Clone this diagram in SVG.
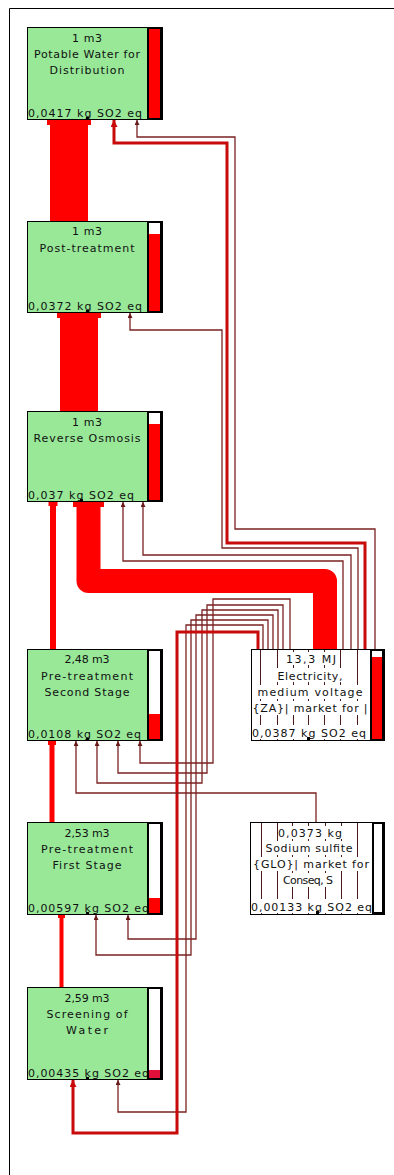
<svg xmlns="http://www.w3.org/2000/svg" width="394" height="1175" viewBox="0 0 394 1175">
<style>
.t{font-family:"DejaVu Sans","Liberation Sans",sans-serif;font-size:11px;fill:#111;}
.c{text-anchor:middle;}
.box{stroke:#000;stroke-width:1;}
.g{fill:#98e898;}
.w{fill:#fff;}
.thin{fill:none;stroke:#7a2222;stroke-width:1.3;marker-start:url(#at);}
.mid{fill:none;stroke:#c80a0a;stroke-width:3;marker-start:url(#am);}
.flow{fill:none;stroke:#ff0000;}
.cap{fill:#ff0000;}
.deco{stroke:#4a1a1a;stroke-width:1;}
.bg{fill:#fff;}
</style>
<defs>
<marker id="at" viewBox="0 0 10 10" refX="10" refY="5" markerWidth="5" markerHeight="5" markerUnits="userSpaceOnUse" orient="auto-start-reverse"><path d="M0,0 L10,5 L0,10 z" fill="#6a1a1a"/></marker>
<marker id="am" viewBox="0 0 10 10" refX="10" refY="5" markerWidth="7" markerHeight="7" markerUnits="userSpaceOnUse" orient="auto-start-reverse"><path d="M0,0 L10,5 L0,10 z" fill="#c80a0a"/></marker>
</defs>
<rect width="394" height="1175" fill="#fff"/>
<path d="M9.5,1175 V8.5 H394" fill="none" stroke="#000" stroke-width="1"/>

<g id="connectors">
  <path class="flow" d="M69,221 V122" stroke-width="38"/>
  <rect class="cap" x="47" y="119" width="44" height="6"/>
  <path class="flow" d="M79,411 V315" stroke-width="38"/>
  <rect class="cap" x="57" y="312" width="44" height="6"/>
  <path class="flow" d="M88.5,504 V581 H325 V649" stroke-width="24" stroke-linejoin="round"/>
  <rect class="cap" x="73" y="501" width="31" height="6"/>
  <path class="flow" d="M53,649 V504" stroke-width="6"/>
  <rect class="cap" x="48.5" y="501" width="9" height="5"/>
  <path class="flow" d="M52,822 V743" stroke-width="5"/>
  <rect class="cap" x="48" y="740" width="8" height="5"/>
  <path class="flow" d="M61.5,987 V917" stroke="#e00000" stroke-width="4"/>
  <rect class="cap" x="58" y="914" width="7" height="4"/>
  <path class="thin" d="M137,120 V137 H235 V529 H375 V649"/>
  <path class="mid" d="M114,120 V143 H227 V543 H365 V649"/>
  <path class="thin" d="M130,313 V330 H222 V548 H358 V649"/>
  <path class="thin" d="M143,502 V555 H351 V649"/>
  <path class="thin" d="M123,502 V561 H343 V649"/>
  <path class="thin" d="M140,741 V763 H213 V599 H290 V649"/>
  <path class="thin" d="M118,741 V773 H207 V605 H283 V649"/>
  <path class="thin" d="M97,741 V783 H202 V610 H278 V649"/>
  <path class="thin" d="M128,915 V939 H196 V615 H273 V649"/>
  <path class="thin" d="M96,915 V955 H191 V620 H268 V649"/>
  <path class="thin" d="M118,1080 V1112 H186 V625 H263 V649"/>
  <path class="mid" d="M73,1080 V1133 H177 V632 H258 V649" stroke-width="3.5"/>
  <path class="thin" d="M76,741 V793 H316 V822"/>
</g>

<g id="potable-water">
  <rect class="box g" x="27.5" y="27.5" width="135" height="92"/>
  <text class="t c" x="87" y="42" textLength="30">1 m3</text>
  <text class="t c" x="87" y="58" textLength="106">Potable Water for</text>
  <text class="t c" x="87" y="74" textLength="75">Distribution</text>
  <text class="t" x="28" y="117" textLength="114">0,0417 kg SO2 eq</text>
  <rect x="147" y="27" width="16" height="93" fill="#000"/>
  <rect x="149" y="29" width="11" height="89" fill="#ff0000"/>
  <rect x="86" y="117" width="3" height="3" fill="#000"/>
</g>

<g id="post-treatment">
  <rect class="box g" x="27.5" y="221.5" width="135" height="91"/>
  <text class="t c" x="87" y="235" textLength="30">1 m3</text>
  <text class="t c" x="87" y="252" textLength="95">Post-treatment</text>
  <text class="t" x="28" y="310" textLength="114">0,0372 kg SO2 eq</text>
  <rect x="147" y="221" width="16" height="92" fill="#000"/>
  <rect x="149" y="223" width="11" height="88" fill="#fff"/>
  <rect x="149" y="234" width="11" height="77" fill="#ff0000"/>
  <rect x="86" y="310" width="3" height="3" fill="#000"/>
</g>

<g id="reverse-osmosis">
  <rect class="box g" x="27.5" y="411.5" width="135" height="90"/>
  <text class="t c" x="87" y="426" textLength="30">1 m3</text>
  <text class="t c" x="87" y="442" textLength="107">Reverse Osmosis</text>
  <text class="t" x="28" y="499" textLength="106">0,037 kg SO2 eq</text>
  <rect x="147" y="411" width="16" height="91" fill="#000"/>
  <rect x="149" y="413" width="11" height="87" fill="#fff"/>
  <rect x="149" y="424" width="11" height="76" fill="#ff0000"/>
  <rect x="80" y="499" width="3" height="3" fill="#000"/>
</g>

<g id="pretreatment-second">
  <rect class="box g" x="27.5" y="649.5" width="135" height="91"/>
  <text class="t c" x="87" y="663" textLength="45">2,48 m3</text>
  <text class="t c" x="87" y="680" textLength="92">Pre-treatment</text>
  <text class="t c" x="87" y="696" textLength="85">Second Stage</text>
  <text class="t" x="28" y="738" textLength="113">0,0108 kg SO2 eq</text>
  <rect x="147" y="649" width="16" height="92" fill="#000"/>
  <rect x="149" y="651" width="11" height="88" fill="#fff"/>
  <rect x="149" y="714" width="11" height="25" fill="#ff0000"/>
  <rect x="86" y="738" width="3" height="3" fill="#000"/>
</g>

<g id="pretreatment-first">
  <rect class="box g" x="27.5" y="822.5" width="135" height="92"/>
  <text class="t c" x="87" y="837" textLength="45">2,53 m3</text>
  <text class="t c" x="87" y="853" textLength="92">Pre-treatment</text>
  <text class="t c" x="87" y="869" textLength="69">First Stage</text>
  <text class="t" x="28" y="912" textLength="121">0,00597 kg SO2 eq</text>
  <rect x="147" y="822" width="16" height="93" fill="#000"/>
  <rect x="149" y="824" width="11" height="89" fill="#fff"/>
  <rect x="149" y="898" width="11" height="15" fill="#ff0000"/>
  <rect x="86" y="912" width="3" height="3" fill="#000"/>
</g>

<g id="screening">
  <rect class="box g" x="27.5" y="987.5" width="135" height="92"/>
  <text class="t c" x="87" y="1002" textLength="45">2,59 m3</text>
  <text class="t c" x="87" y="1018" textLength="81">Screening of</text>
  <text class="t c" x="87" y="1034" textLength="42">Water</text>
  <text class="t" x="28" y="1077" textLength="121">0,00435 kg SO2 eq</text>
  <rect x="147" y="987" width="16" height="93" fill="#000"/>
  <rect x="149" y="989" width="11" height="89" fill="#fff"/>
  <rect x="149" y="1070" width="11" height="8" fill="#e0103a"/>
  <rect x="86" y="1077" width="3" height="3" fill="#000"/>
</g>

<g id="electricity">
  <rect class="box w" x="251.5" y="649.5" width="133" height="91"/>
  <g class="deco">
    <line x1="260.5" y1="650" x2="260.5" y2="740"/><line x1="277.5" y1="650" x2="277.5" y2="740"/>
    <line x1="293.5" y1="650" x2="293.5" y2="740"/><line x1="308.5" y1="650" x2="308.5" y2="740"/>
    <line x1="324.5" y1="650" x2="324.5" y2="740"/><line x1="340.5" y1="650" x2="340.5" y2="740"/>
    <line x1="357.5" y1="650" x2="357.5" y2="740"/>
  </g>
  <rect class="bg" x="285" y="652" width="52" height="13"/>
  <rect class="bg" x="277" y="668" width="66" height="14"/>
  <rect class="bg" x="257" y="685" width="107" height="14"/>
  <rect class="bg" x="252" y="701" width="116" height="14"/>
  <rect class="bg" x="252" y="725" width="117" height="14"/>
  <text class="t c" x="311" y="663" textLength="50">13,3 MJ</text>
  <text class="t c" x="310" y="680" textLength="65">Electricity,</text>
  <text class="t c" x="310" y="696" textLength="105">medium voltage</text>
  <text class="t c" x="310" y="712" textLength="115">{ZA}| market for |</text>
  <text class="t" x="252" y="737" textLength="114">0,0387 kg SO2 eq</text>
  <rect x="370" y="649" width="15" height="92" fill="#000"/>
  <rect x="372" y="651" width="10" height="88" fill="#fff"/>
  <rect x="372" y="657" width="10" height="82" fill="#ff0000"/>
  <rect x="307" y="737" width="3" height="3" fill="#000"/>
</g>

<g id="sodium-sulfite">
  <rect class="box w" x="250.5" y="822.5" width="134" height="92"/>
  <g class="deco">
    <line x1="261.5" y1="823" x2="261.5" y2="914"/><line x1="277.5" y1="823" x2="277.5" y2="914"/>
    <line x1="292.5" y1="823" x2="292.5" y2="914"/><line x1="308.5" y1="823" x2="308.5" y2="914"/>
    <line x1="325.5" y1="823" x2="325.5" y2="914"/><line x1="341.5" y1="823" x2="341.5" y2="914"/>
    <line x1="357.5" y1="823" x2="357.5" y2="914"/>
  </g>
  <rect class="bg" x="278" y="826" width="65" height="13"/>
  <rect class="bg" x="265" y="841" width="88" height="14"/>
  <rect class="bg" x="252" y="857" width="118" height="14"/>
  <rect class="bg" x="283" y="873" width="51" height="14"/>
  <rect class="bg" x="251" y="899" width="121" height="14"/>
  <text class="t c" x="310" y="837" textLength="64">0,0373 kg</text>
  <text class="t c" x="309" y="852" textLength="87">Sodium sulfite</text>
  <text class="t c" x="311" y="868" textLength="116">{GLO}| market for</text>
  <text class="t c" x="308" y="884" textLength="50">Conseq, S</text>
  <text class="t" x="251" y="911" textLength="121">0,00133 kg SO2 eq</text>
  <rect x="372" y="822" width="13" height="93" fill="#000"/>
  <rect x="374" y="824" width="8" height="88" fill="#fff"/>
  <rect x="316" y="911" width="3" height="3" fill="#000"/>
</g>
</svg>
